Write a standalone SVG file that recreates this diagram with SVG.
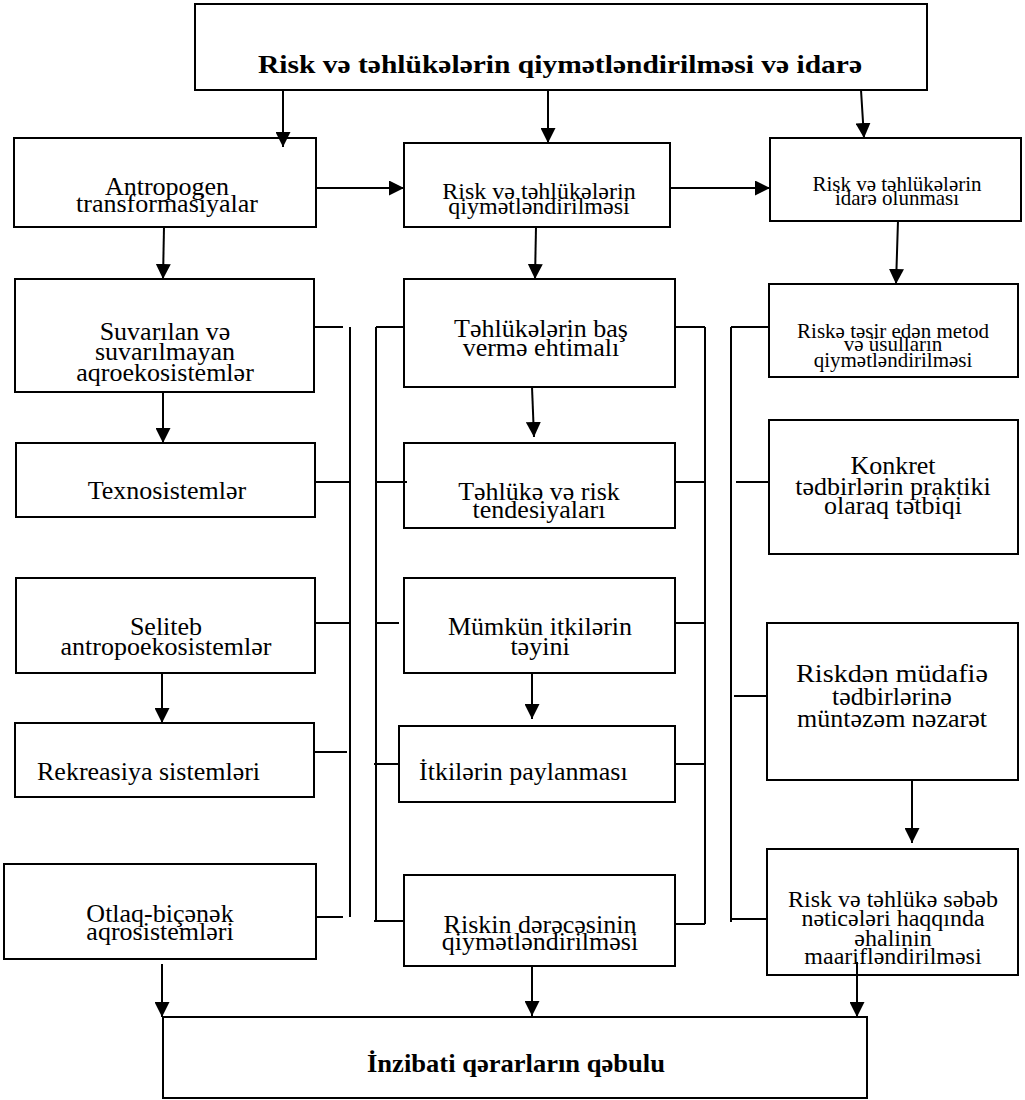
<svg xmlns="http://www.w3.org/2000/svg" width="1025" height="1100" viewBox="0 0 1025 1100">
<style>
.box{fill:#fff;stroke:#000;stroke-width:2}
.t{font-family:"Liberation Serif","Times New Roman",serif;font-size:26px;fill:#000;text-anchor:middle}
.s{text-anchor:start}
.b{font-weight:bold}
.f24{font-size:24px}
.f21{font-size:21px}
.ln{stroke:#000;stroke-width:2;fill:none}
.ar{stroke:#000;stroke-width:2;fill:none;marker-end:url(#ah)}
</style>
<defs>
<marker id="ah" viewBox="0 0 10 10" refX="10" refY="5" markerWidth="15" markerHeight="15" markerUnits="userSpaceOnUse" orient="auto">
<path d="M0,0 L10,5 L0,10 z" fill="#000"/>
</marker>
</defs>
<rect width="1025" height="1100" fill="#fff"/>

<g id="n-top"><rect class="box" x="195" y="4" width="732" height="86"/>
<text class="t b" x="560" y="73" font-size="29" textLength="604" lengthAdjust="spacingAndGlyphs">Risk və təhlükələrin qiymətləndirilməsi və idarə</text></g>

<g id="n-antropogen"><rect class="box" x="14" y="138" width="302" height="89"/>
<text class="t" x="167" y="195">Antropogen</text><text class="t" x="167" y="212">transformasiyalar</text></g>

<g id="n-qiymet"><rect class="box" x="404" y="143" width="266" height="84"/>
<text class="t f24" x="539" y="199">Risk və təhlükələrin</text><text class="t f24" x="539" y="214">qiymətləndirilməsi</text></g>

<g id="n-idare"><rect class="box" x="770" y="138" width="251" height="83"/>
<text class="t f21" x="897" y="191">Risk və təhlükələrin</text><text class="t f21" x="897" y="205">idarə olunması</text></g>

<g id="n-suvarilan"><rect class="box" x="15" y="279" width="299" height="113"/>
<text class="t" x="165" y="340">Suvarılan və</text><text class="t" x="165" y="360">suvarılmayan</text><text class="t" x="165" y="381">aqroekosistemlər</text></g>

<g id="n-ehtimal"><rect class="box" x="404" y="279" width="271" height="108"/>
<text class="t" x="541" y="337">Təhlükələrin baş</text><text class="t" x="541" y="356">vermə ehtimalı</text></g>

<g id="n-metod"><rect class="box" x="769" y="284" width="249" height="93"/>
<text class="t f21" x="893" y="338">Riskə təsir edən metod</text><text class="t f21" x="893" y="351">və üsulların</text><text class="t f21" x="893" y="367">qiymətləndirilməsi</text></g>

<g id="n-texno"><rect class="box" x="16" y="443" width="299" height="74"/>
<text class="t" x="167" y="499">Texnosistemlər</text></g>

<g id="n-tendensiya"><rect class="box" x="404" y="443" width="271" height="85"/>
<text class="t" x="539" y="500">Təhlükə və risk</text><text class="t" x="539" y="518">tendesiyaları</text></g>

<g id="n-konkret"><rect class="box" x="769" y="420" width="249" height="134"/>
<text class="t" x="893" y="474">Konkret</text><text class="t" x="893" y="495">tədbirlərin praktiki</text><text class="t" x="893" y="514">olaraq tətbiqi</text></g>

<g id="n-seliteb"><rect class="box" x="16" y="578" width="299" height="95"/>
<text class="t" x="166" y="635">Seliteb</text><text class="t" x="166" y="655">antropoekosistemlər</text></g>

<g id="n-mumkun"><rect class="box" x="404" y="578" width="271" height="95"/>
<text class="t" x="540" y="635">Mümkün itkilərin</text><text class="t" x="540" y="655">təyini</text></g>

<g id="n-nezaret"><rect class="box" x="767" y="623" width="251" height="157"/>
<text class="t" x="892" y="682" textLength="192" lengthAdjust="spacingAndGlyphs">Riskdən müdafiə</text><text class="t" x="892" y="705">tədbirlərinə</text><text class="t" x="892" y="727">müntəzəm nəzarət</text></g>

<g id="n-rekreasiya"><rect class="box" x="15" y="723" width="299" height="74"/>
<text class="t s" x="37" y="780">Rekreasiya sistemləri</text></g>

<g id="n-paylanma"><rect class="box" x="399" y="726" width="276" height="76"/>
<text class="t s" x="419" y="780">İtkilərin paylanması</text></g>

<g id="n-otlaq"><rect class="box" x="4" y="864" width="312" height="95"/>
<text class="t" x="160" y="922">Otlaq-biçənək</text><text class="t" x="160" y="940">aqrosistemləri</text></g>

<g id="n-derece"><rect class="box" x="404" y="875" width="271" height="91"/>
<text class="t" x="540" y="933">Riskin dərəcəsinin</text><text class="t" x="540" y="950">qiymətləndirilməsi</text></g>

<g id="n-maarif"><rect class="box" x="767" y="849" width="251" height="126"/>
<text class="t f24" x="893" y="907">Risk və təhlükə səbəb</text><text class="t f24" x="893" y="926">nəticələri haqqında</text><text class="t f24" x="893" y="946">əhalinin</text><text class="t f24" x="893" y="964">maarifləndirilməsi</text></g>

<g id="n-inzibati"><rect class="box" x="163" y="1017" width="704" height="81"/>
<text class="t b" x="516" y="1072" textLength="298" lengthAdjust="spacingAndGlyphs">İnzibati qərarların qəbulu</text></g>

<g id="connectors">
<path class="ar" d="M283,90 L283,147"/>
<path class="ar" d="M548,90 L548,143"/>
<path class="ar" d="M861,90 L864,138"/>
<path class="ar" d="M316,188 L404,188"/>
<path class="ar" d="M670,188 L770,188"/>
<path class="ar" d="M164,227 L163,279"/>
<path class="ar" d="M536,227 L535,279"/>
<path class="ar" d="M898,221 L896,284"/>
<path class="ar" d="M163,392 L163,443"/>
<path class="ar" d="M532,387 L534,437"/>
<path class="ar" d="M162,673 L162,723"/>
<path class="ar" d="M532,673 L532,719"/>
<path class="ar" d="M912,780 L912,843"/>
<path class="ar" d="M162,964 L162,1017"/>
<path class="ar" d="M532,966 L532,1016"/>
<path class="ar" d="M857,962 L857,1017"/>

<path class="ln" d="M314,327 H343 M315,482 H350 M314,623 H350 M314,752 H347 M316,917 H343 M350,327 V917"/>
<path class="ln" d="M376,327 V921 M376,327 H404 M376,482 H407 M376,623 H399 M374,764 H399 M374,921 H404"/>
<path class="ln" d="M705,327 V924 M675,327 H705 M675,482 H705 M675,623 H705 M675,764 H705 M675,924 H705"/>
<path class="ln" d="M731,327 V922 M731,327 H769 M736,482 H769 M734,696 H767 M731,919 H767"/>
</g>
</svg>
